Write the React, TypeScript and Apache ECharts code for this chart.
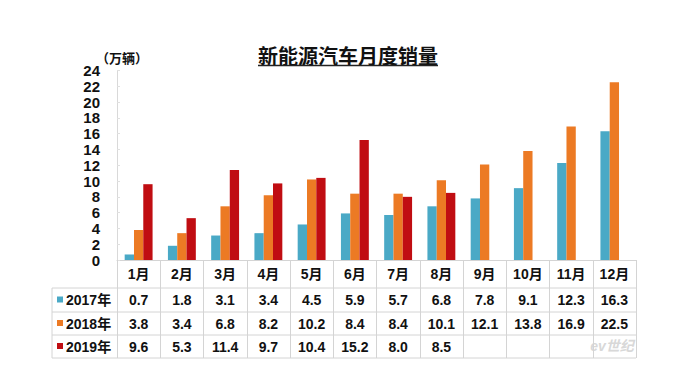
import React, { useEffect, useRef } from "react";
import * as echarts from "echarts";

const months = ["1月", "2月", "3月", "4月", "5月", "6月", "7月", "8月", "9月", "10月", "11月", "12月"];
const sales2017 = [0.7, 1.8, 3.1, 3.4, 4.5, 5.9, 5.7, 6.8, 7.8, 9.1, 12.3, 16.3];
const sales2018 = [3.8, 3.4, 6.8, 8.2, 10.2, 8.4, 8.4, 10.1, 12.1, 13.8, 16.9, 22.5];
const sales2019: (number | null)[] = [9.6, 5.3, 11.4, 9.7, 10.4, 15.2, 8.0, 8.5, null, null, null, null];
const seriesNames = ["2017年", "2018年", "2019年"];
const colors = ["#4aa9c6", "#ec7a24", "#c00d12"];
const yTicks = { min: 0, max: 24, interval: 2 };

const FONT = "'Liberation Sans', 'Noto Sans CJK SC', sans-serif";

export default function App() {
  const ref = useRef<HTMLDivElement>(null);
  useEffect(() => {
    document.body.style.margin = "0";
    if (!ref.current) return;
    const chart = echarts.init(ref.current, null, { renderer: "svg" });
    const W = 679;
    const gridLeft = 117;
    const gridRight = 43;
    const gridTop = 70.5;
    const zeroY = 260;
    const gridWidth = W - gridLeft - gridRight;
    const colW = gridWidth / months.length;
    const rowLines = [288, 312, 335, 358];
    const rowCenters = [300, 323.5, 346.5];
    const tableLeft = 52;
    const lineColor = "#d4d4d4";
    const data = [sales2017, sales2018, sales2019];

    const graphic: any[] = [];
    graphic.push({
      type: "text",
      x: 348,
      y: 55,
      style: {
        text: "新能源汽车月度销量",
        font: "bold 20px 'Noto Sans CJK SC', sans-serif",
        fill: "#111",
        align: "center",
        verticalAlign: "middle",
      },
    });
    graphic.push({
      type: "line",
      shape: { x1: 258, y1: 65.5, x2: 438, y2: 65.5 },
      style: { stroke: "#222", lineWidth: 1.5 },
    });
    graphic.push({
      type: "text",
      x: 122,
      y: 57,
      style: {
        text: "（万辆）",
        font: "bold 13px 'Noto Sans CJK SC', sans-serif",
        fill: "#111",
        align: "center",
        verticalAlign: "middle",
      },
    });
    rowLines.forEach((y) => {
      graphic.push({
        type: "line",
        shape: { x1: tableLeft, y1: y, x2: gridLeft + gridWidth, y2: y },
        style: { stroke: lineColor, lineWidth: 1 },
      });
    });
    graphic.push({
      type: "line",
      shape: { x1: tableLeft, y1: rowLines[0], x2: tableLeft, y2: rowLines[3] },
      style: { stroke: lineColor, lineWidth: 1 },
    });
    seriesNames.forEach((name, r) => {
      graphic.push({
        type: "rect",
        shape: { x: 57, y: rowCenters[r] - 3.5, width: 6, height: 6 },
        style: { fill: colors[r] },
      });
      graphic.push({
        type: "text",
        x: 66,
        y: rowCenters[r],
        style: {
          text: name,
          font: "bold 14px " + FONT,
          fill: "#111",
          align: "left",
          verticalAlign: "middle",
        },
      });
      data[r].forEach((v, i) => {
        if (v === null) return;
        graphic.push({
          type: "text",
          x: gridLeft + (i + 0.5) * colW,
          y: rowCenters[r],
          style: {
            text: v.toFixed(1),
            font: "bold 14px " + FONT,
            fill: "#111",
            align: "center",
            verticalAlign: "middle",
          },
        });
      });
    });
    graphic.push({
      type: "text",
      x: 612,
      y: 346,
      style: {
        text: "ev世纪",
        font: "italic bold 14px " + FONT,
        fill: "#d8d8d8",
        align: "center",
        verticalAlign: "middle",
      },
    });

    chart.setOption({
      animation: false,
      backgroundColor: "#ffffff",
      textStyle: { fontFamily: FONT },
      grid: {
        left: gridLeft,
        right: gridRight,
        top: gridTop,
        bottom: 376 - zeroY,
        containLabel: false,
      },
      xAxis: {
        type: "category",
        data: months,
        boundaryGap: true,
        axisLine: { show: true, lineStyle: { color: lineColor, width: 1 } },
        axisTick: {
          show: true,
          interval: 0,
          length: 98,
          lineStyle: { color: lineColor, width: 1 },
        },
        axisLabel: {
          interval: 0,
          margin: 7,
          fontSize: 14,
          fontWeight: "bold",
          color: "#111",
          fontFamily: FONT,
        },
      },
      yAxis: {
        type: "value",
        min: yTicks.min,
        max: yTicks.max,
        interval: yTicks.interval,
        splitLine: { show: false },
        axisLine: { show: true, lineStyle: { color: "#d9d9d9" } },
        axisTick: { show: true, inside: true, length: 3, lineStyle: { color: "#e0e0e0" } },
        axisLabel: {
          fontSize: 15,
          fontWeight: "bold",
          color: "#111",
          margin: 17,
          fontFamily: FONT,
        },
      },
      series: seriesNames.map((name, r) => ({
        name,
        type: "bar",
        data: data[r],
        barWidth: 9.3,
        barGap: "0%",
        itemStyle: { color: colors[r] },
      })),
      graphic,
    });
    return () => chart.dispose();
  }, []);
  return <div ref={ref} style={{ width: 679, height: 376 }} />;
}
